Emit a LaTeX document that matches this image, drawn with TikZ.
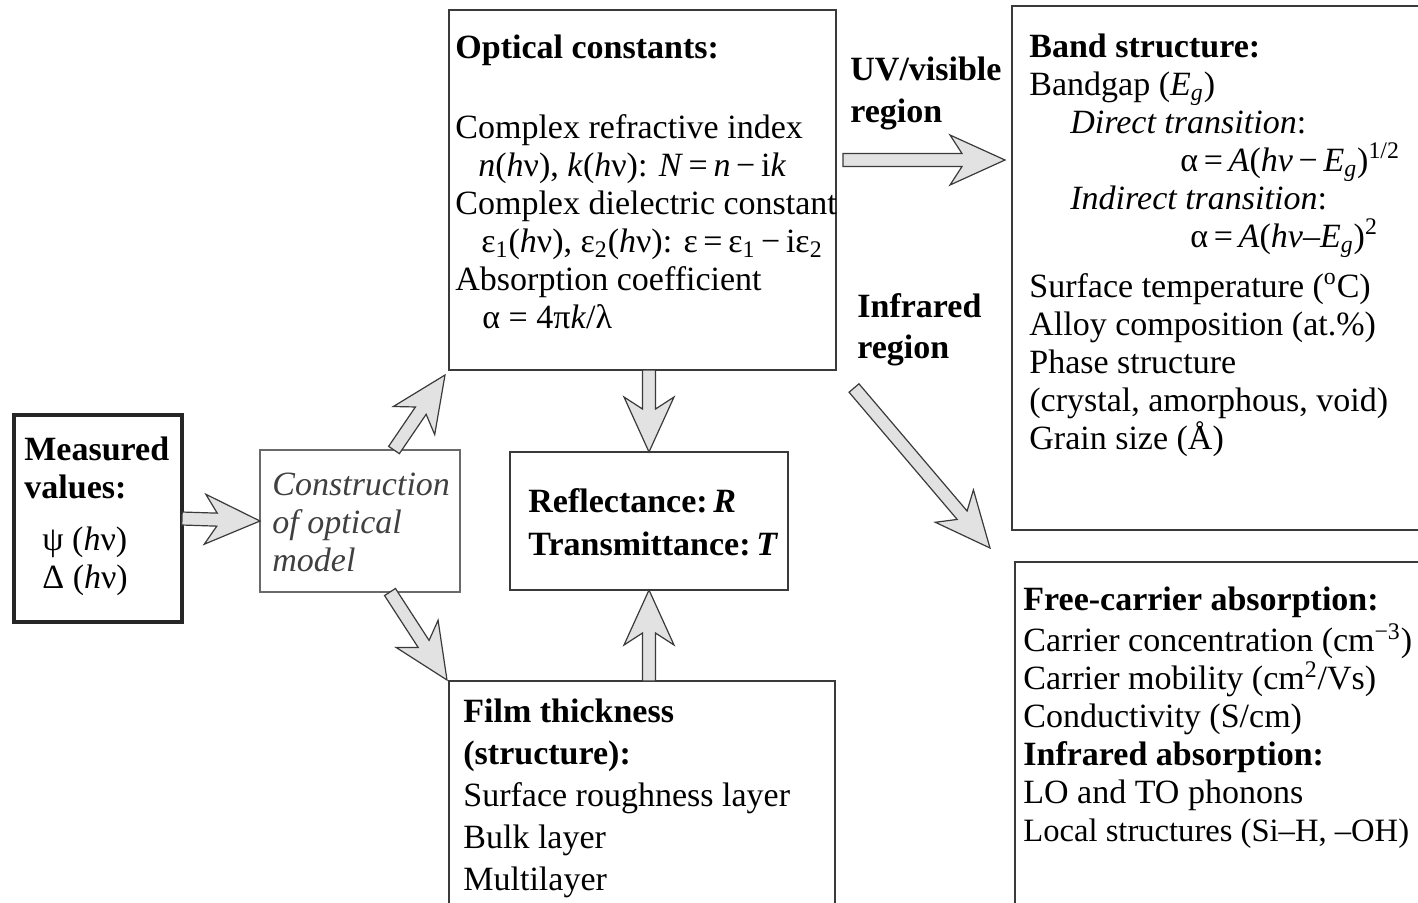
\documentclass[tikz,border=0pt]{standalone}
\usepackage{fontspec}
\setmainfont{Liberation Serif}
\usetikzlibrary{calc}

\definecolor{boxline}{HTML}{3A3A3A}
\definecolor{softline}{HTML}{6A6A6A}
\definecolor{arrowfill}{HTML}{E2E2E2}

\tikzset{
  box/.style={draw=boxline, line width=0.9pt, inner sep=0pt, outer sep=0pt, anchor=north west},
  txt/.style={inner sep=0pt, anchor=north west, align=left, font=\fontsize{17}{19}\selectfont},
  flowarrow/.style={draw=boxline, line width=0.6pt, fill=arrowfill, line join=miter,
    to path={let \p1=(\tikztostart), \p2=(\tikztotarget),
      \n1={atan2(\y2-\y1,\x2-\x1)}, \n2={veclen(\x2-\x1,\y2-\y1)-27.5} in
      ($(\p1)+(\n1+90:3.25pt)$)
      -- ($(\p1)+(\n1:{\n2+6pt})+(\n1+90:3.25pt)$)
      -- ($(\p1)+(\n1:{\n2})+(\n1+90:12.5pt)$)
      -- (\p2)
      -- ($(\p1)+(\n1:{\n2})+(\n1-90:12.5pt)$)
      -- ($(\p1)+(\n1:{\n2+6pt})+(\n1-90:3.25pt)$)
      -- ($(\p1)+(\n1-90:3.25pt)$) -- cycle}}
}

\begin{document}
\begin{tikzpicture}[x=0.5pt, y=-0.5pt]
  \useasboundingbox (0,0) rectangle (1418,902);

  % Boxes
  \node[box, draw=black!85, line width=1.6pt, minimum width=84pt, minimum height=103.5pt] (meas) at (14,415) {};
  \node[box, draw=softline, minimum width=100pt, minimum height=71pt] (cons) at (260,450) {};
  \node[box, minimum width=193.5pt, minimum height=180pt] (opt) at (449,10) {};
  \node[box, minimum width=139pt, minimum height=69pt] (refl) at (510,452) {};
  \node[box, minimum width=193pt, minimum height=115pt] (film) at (449,681) {};
  \node[box, minimum width=210pt, minimum height=262pt] (band) at (1012,6) {};
  \node[box, minimum width=210pt, minimum height=175pt] (free) at (1015,562) {};

  % Texts
  \node[txt] (meastxt) at ([shift={(5pt,-9pt)}]meas.north west)
    {\strut\textbf{Measured}\\ \textbf{values:}\\[7pt]
     \hspace*{9pt}ψ (\textit{h}ν)\\ \hspace*{9pt}Δ (\textit{h}ν)};
  \node[txt, text=black!75] (constxt) at ([shift={(6pt,-9pt)}]cons.north west)
    {\strut\textit{Construction}\\ \textit{of optical}\\ \textit{model}};
  \node[txt] (opttxt) at ([shift={(3pt,-10.7pt)}]opt.north west)
    {\strut\textbf{Optical constants:}\\[21pt]
     Complex refractive index\\
     \hspace*{11.5pt}\textit{n}(\textit{h}ν), \textit{k}(\textit{h}ν): \textit{N}\,=\,\textit{n}\,−\,i\textit{k}\\
     Complex dielectric constant\\
     \hspace*{13pt}ε\textsubscript{1}(\textit{h}ν), ε\textsubscript{2}(\textit{h}ν): ε\,=\,ε\textsubscript{1}\,−\,iε\textsubscript{2}\\
     Absorption coefficient\\
     \hspace*{13.5pt}α = 4π\textit{k}/λ};
  \node[txt] (refltxt) at ([shift={(9pt,-16.5pt)}]refl.north west)
    {\strut\textbf{Reflectance:\,\textit{R}}\\[2.5pt] \textbf{Transmittance:\,\textit{T}}};
  \node[txt] (filmtxt) at ([shift={(7pt,-7pt)}]film.north west)
    {\strut\textbf{Film thickness}\\[2pt] \textbf{(structure):}\\[2pt]
     Surface roughness layer\\[2pt] Bulk layer\\[2pt] Multilayer};
  \node[txt] (bandtxt) at ([shift={(8.5pt,-12pt)}]band.north west)
    {\strut\textbf{Band structure:}\\
     Bandgap (\textit{E}\textsubscript{\textit{g}})\\
     \hspace*{20.5pt}\textit{Direct transition}:\\
     \hspace*{75.5pt}α\,=\,\textit{A}(\textit{hv}\,−\,\textit{E}\textsubscript{\textit{g}})\textsuperscript{1/2}\\
     \hspace*{20.5pt}\textit{Indirect transition}:\\
     \hspace*{80.5pt}α\,=\,\textit{A}(\textit{hv}–\textit{E}\textsubscript{\textit{g}})\textsuperscript{2}\\[6pt]
     Surface temperature (\textsuperscript{o}C)\\
     Alloy composition (at.\%)\\
     Phase structure\\
     (crystal, amorphous, void)\\
     Grain size (Å)};
  \node[txt] (freetxt) at ([shift={(4pt,-10.5pt)}]free.north west)
    {\strut\textbf{Free-carrier absorption:}\\
     Carrier concentration (cm\textsuperscript{−3})\\
     Carrier mobility (cm\textsuperscript{2}/Vs)\\
     Conductivity (S/cm)\\
     \textbf{Infrared absorption:}\\
     LO and TO phonons\\
     {\fontsize{16.3}{19}\selectfont Local structures (Si–H, –OH)}};
  \node[txt] (uvtxt) at ([shift={(7pt,-21.5pt)}]opt.north east)
    {\strut\textbf{UV/visible}\\[2pt] \textbf{region}};
  \node[txt] (irtxt) at ([shift={(10.5pt,40pt)}]opt.south east)
    {\strut\textbf{Infrared}\\[1.5pt] \textbf{region}};

  % Arrows
  \draw[flowarrow] (meas.east) to (cons.west);
  \draw[flowarrow] ([xshift=17pt]cons.north) to ([shift={(-2pt,-2.5pt)}]opt.south west);
  \draw[flowarrow] ([xshift=15pt]cons.south) to ([shift={(-1pt,0.5pt)}]film.north west);
  \draw[flowarrow] (refl.north |- opt.south) to (refl.north);
  \draw[flowarrow] (refl.south |- film.north) to (refl.south);
  \draw[flowarrow] ([shift={(3.5pt,-75pt)}]opt.north east) to ([shift={(-3.5pt,-77pt)}]band.north west);
  \draw[flowarrow] ([shift={(9pt,-9pt)}]opt.south east) to ([shift={(-12.5pt,7pt)}]free.north west);
\end{tikzpicture}
\end{document}
